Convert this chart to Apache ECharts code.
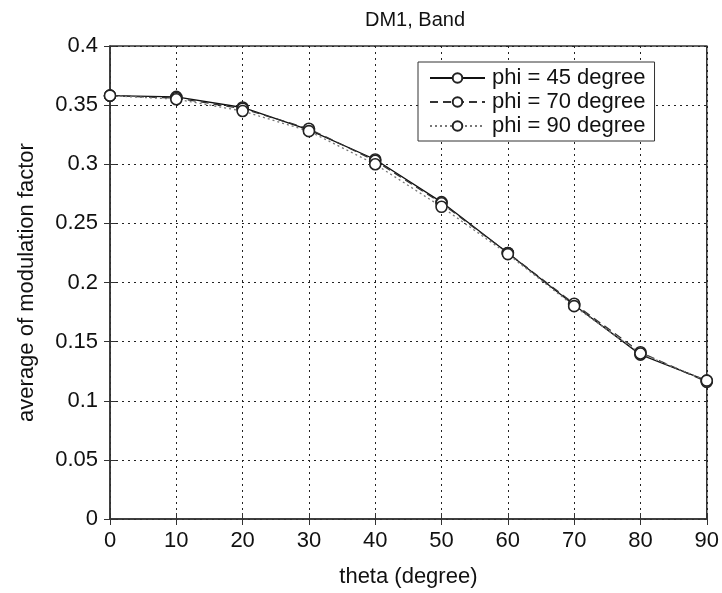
<!DOCTYPE html>
<html lang="en">
  <head>
    <meta charset="UTF-8" />
    <title>DM1, Band</title>
    <script src="https://cdn.jsdelivr.net/npm/echarts@6/dist/echarts.min.js"></script>
    <style>
      html,
      body {
        margin: 0;
        padding: 0;
        background: #fff;
      }
    </style>
  </head>
  <body>
    <div id="main" style="width: 722px; height: 593px"></div>
    <script type="text/javascript">
      // theta (degree)
      var theta = [0, 10, 20, 30, 40, 50, 60, 70, 80, 90];
      // average of modulation factor
      var phi45 = [0.358, 0.357, 0.348, 0.329, 0.304, 0.268, 0.225, 0.181, 0.139, 0.117];
      var phi70 = [0.358, 0.356, 0.347, 0.330, 0.303, 0.267, 0.225, 0.182, 0.141, 0.116];
      var phi90 = [0.358, 0.355, 0.345, 0.328, 0.300, 0.264, 0.224, 0.180, 0.140, 0.117];
      var names = ["phi = 45 degree", "phi = 70 degree", "phi = 90 degree"];

      var font = "Liberation Sans, Arial, sans-serif";
      var myChart = echarts.init(document.getElementById("main"));

      function pairs(ys) {
        return theta.map(function (t, i) {
          return [t, ys[i]];
        });
      }

      function line(name, ys, type, color) {
        return {
          name: name,
          type: "line",
          data: pairs(ys),
          symbol: "circle",
          symbolSize: 11,
          itemStyle: { color: "#fff", borderColor: "#222", borderWidth: 1.6 },
          lineStyle: { color: color, width: 1.3, type: type },
          emphasis: { disabled: true },
          z: 3,
        };
      }

      var gridLine = { show: true, lineStyle: { color: "#222", type: [2, 4], width: 1 } };
      var tickStyle = { inside: true, length: 6, lineStyle: { color: "#333" } };

      option = {
        animation: false,
        backgroundColor: "#fff",
        title: {
          text: "DM1, Band",
          left: 410,
          textAlign: "center",
          top: 5,
          textStyle: { fontFamily: font, fontWeight: "normal", fontSize: 20, color: "#111" },
        },
        legend: {
          data: names,
          left: 418,
          top: 62,
          orient: "vertical",
          itemWidth: 55,
          itemHeight: 12,
          itemGap: 2,
          padding: [5, 9, 4, 11],
          backgroundColor: "#fff",
          borderColor: "#333",
          borderWidth: 1,
          borderRadius: 0,
          textStyle: { fontFamily: font, fontSize: 22, lineHeight: 20, color: "#111", padding: [0, 0, 0, 2] },
        },
        grid: {
          left: 110,
          right: 14,
          top: 46,
          bottom: 74,
          show: true,
          borderColor: "#333",
          borderWidth: 1.5,
        },
        xAxis: [
          {
            type: "value",
            min: 0,
            max: 90,
            interval: 10,
            name: "theta (degree)",
            nameLocation: "middle",
            nameGap: 47,
            nameTextStyle: { fontFamily: font, fontSize: 22, color: "#111" },
            axisLine: { lineStyle: { color: "#333", width: 1.5 } },
            axisTick: tickStyle,
            axisLabel: { fontFamily: font, fontSize: 22, color: "#111", margin: 11 },
            splitLine: gridLine,
          },
          {
            type: "value",
            position: "top",
            min: 0,
            max: 90,
            interval: 10,
            axisLine: { show: false },
            axisTick: tickStyle,
            axisLabel: { show: false },
            splitLine: { show: false },
          },
        ],
        yAxis: [
          {
            type: "value",
            min: 0,
            max: 0.4,
            interval: 0.05,
            name: "average of modulation factor",
            nameLocation: "middle",
            nameGap: 72,
            nameTextStyle: { fontFamily: font, fontSize: 22, color: "#111" },
            axisLine: { show: true, lineStyle: { color: "#333", width: 1.5 } },
            axisTick: Object.assign({ show: true }, tickStyle),
            axisLabel: { fontFamily: font, fontSize: 22, color: "#111", margin: 12 },
            splitLine: gridLine,
          },
          {
            type: "value",
            position: "right",
            min: 0,
            max: 0.4,
            interval: 0.05,
            axisLine: { show: false },
            axisTick: Object.assign({ show: true }, tickStyle),
            axisLabel: { show: false },
            splitLine: { show: false },
          },
        ],
        series: [
          line(names[0], phi45, "solid", "#111"),
          line(names[1], phi70, [8, 5], "#333"),
          line(names[2], phi90, [2, 3], "#777"),
        ],
      };
      myChart.setOption(option);
    </script>
  </body>
</html>
